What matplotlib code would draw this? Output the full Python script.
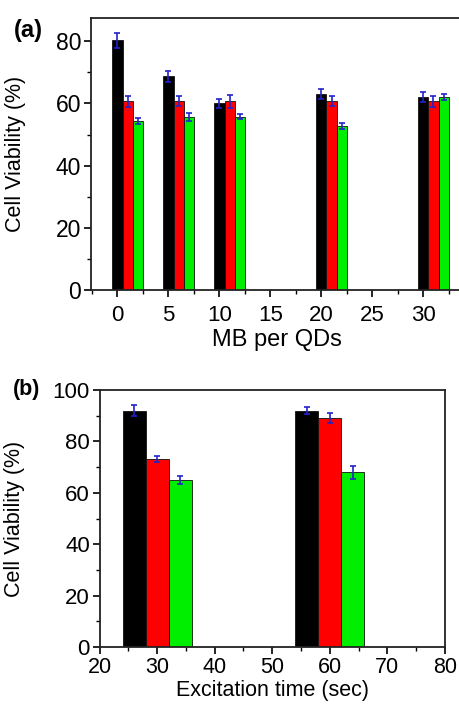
import numpy as np
import matplotlib
matplotlib.use("Agg")
import matplotlib.pyplot as plt
from matplotlib.ticker import MultipleLocator

plt.rcParams['font.family'] = ['Liberation Sans', 'DejaVu Sans']

# panel (a): MB per QDs
mb = [0, 5, 10, 20, 30]
a_black = [80.3, 68.8, 60.0, 63.0, 62.2]
a_black_err = [2.5, 1.8, 1.5, 1.6, 1.6]
a_red = [60.7, 60.7, 60.7, 60.7, 60.7]
a_red_err = [1.8, 1.6, 2.0, 1.6, 1.8]
a_green = [54.4, 55.7, 55.7, 52.8, 62.2]
a_green_err = [1.0, 1.3, 0.8, 1.0, 1.0]

# panel (b): excitation time
t = [26, 56]
b_black = [92.0, 92.0]
b_black_err = [2.0, 1.5]
b_red = [73.0, 89.0]
b_red_err = [1.2, 2.0]
b_green = [65.0, 68.0]
b_green_err = [1.5, 2.5]

cols = ['#000000', '#ff0000', '#00ee00']
ecol = '#2222cc'

fig = plt.figure(figsize=(4.59, 7.06), dpi=100)

ax1 = fig.add_axes([91 / 459, 1 - 290 / 706, 372 / 459, 272 / 706])
ax2 = fig.add_axes([99.5 / 459, 1 - 647 / 706, 345.5 / 459, 257 / 706])

err_kw = dict(ecolor=ecol, capsize=2.5, elinewidth=1.2, capthick=1.2)

x = np.array(mb)
for k, (v, e) in enumerate([(a_black, a_black_err), (a_red, a_red_err), (a_green, a_green_err)]):
    ax1.bar(x + k, v, width=1.0, color=cols[k], edgecolor='#111111', linewidth=0.6,
            yerr=e, error_kw=err_kw)

x2 = np.array(t)
for k, (v, e) in enumerate([(b_black, b_black_err), (b_red, b_red_err), (b_green, b_green_err)]):
    ax2.bar(x2 + 4 * k, v, width=4.0, color=cols[k], edgecolor='#111111', linewidth=0.6,
            yerr=e, error_kw=err_kw)

ax1.set_xlim(-2.6, 33.9)
ax1.set_ylim(0, 87.5)
ax1.xaxis.set_major_locator(MultipleLocator(5))
ax1.xaxis.set_minor_locator(MultipleLocator(2.5))
ax1.yaxis.set_major_locator(MultipleLocator(20))
ax1.yaxis.set_minor_locator(MultipleLocator(10))

ax2.set_xlim(20, 80)
ax2.set_ylim(0, 100)
ax2.xaxis.set_major_locator(MultipleLocator(10))
ax2.xaxis.set_minor_locator(MultipleLocator(5))
ax2.yaxis.set_major_locator(MultipleLocator(20))
ax2.yaxis.set_minor_locator(MultipleLocator(10))

for ax in (ax1, ax2):
    for s in ax.spines.values():
        s.set_linewidth(1.3)
        s.set_color('#222222')
    ax.tick_params(which='major', direction='out', length=5, width=1.2, pad=2)
    ax.tick_params(which='minor', direction='out', length=3, width=1.0)

ax1.tick_params(axis='x', labelsize=16, pad=6)
ax1.tick_params(axis='y', labelsize=16.5)
ax2.tick_params(axis='x', labelsize=15.5)
ax2.tick_params(axis='y', labelsize=16)

ax1.set_xlabel('MB per QDs', fontsize=17)
ax1.xaxis.set_label_coords(0.5, -0.145)
ax1.set_ylabel('Cell Viability (%)', fontsize=15.5)
ax1.yaxis.set_label_coords(-0.175, 0.5)

ax2.set_xlabel('Excitation time (sec)', fontsize=15.5)
ax2.xaxis.set_label_coords(0.5, -0.13)
ax2.set_ylabel('Cell Viability (%)', fontsize=15.5)
ax2.yaxis.set_label_coords(-0.215, 0.5)

fig.text(14 / 459, 1 - 30 / 706, '(a)', fontsize=17, fontweight='bold', va='center', ha='left')
fig.text(13 / 459, 1 - 389 / 706, '(b)', fontsize=15.5, fontweight='bold', va='center', ha='left')

fig.savefig('out.png', dpi=100)
